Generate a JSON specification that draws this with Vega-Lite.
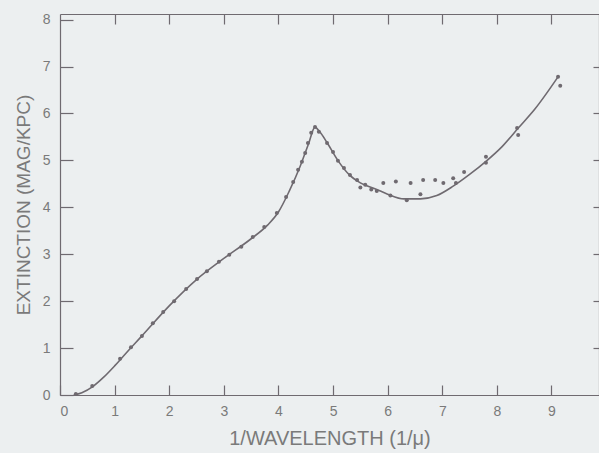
{
  "$schema": "https://vega.github.io/schema/vega-lite/v6.json",
  "autosize": {"type": "none"},
  "width": 539,
  "height": 381,
  "padding": {"left": 60, "top": 14, "right": 0, "bottom": 58},
  "background": "#eceff0",
  "config": {
    "view": {"stroke": null},
    "axis": {
      "grid": false,
      "domainColor": "#6f6a70",
      "tickColor": "#6f6a70",
      "labelColor": "#7a7a7a",
      "titleColor": "#7a7a7a",
      "labelFont": "Liberation Sans",
      "titleFont": "Liberation Sans",
      "labelFontSize": 14,
      "titleFontWeight": "normal",
      "domainWidth": 1.2,
      "tickWidth": 1.2
    }
  },
  "datasets": {
    "curve": [
      {"x": 0.25, "y": 0}, {"x": 0.4, "y": 0.05}, {"x": 0.6, "y": 0.18}, {"x": 0.8, "y": 0.38},
      {"x": 1.0, "y": 0.62}, {"x": 1.2, "y": 0.88}, {"x": 1.5, "y": 1.26}, {"x": 2.0, "y": 1.9},
      {"x": 2.5, "y": 2.46}, {"x": 3.0, "y": 2.91}, {"x": 3.5, "y": 3.33}, {"x": 3.8, "y": 3.62},
      {"x": 4.0, "y": 3.9}, {"x": 4.2, "y": 4.35}, {"x": 4.4, "y": 4.88}, {"x": 4.55, "y": 5.35},
      {"x": 4.67, "y": 5.71}, {"x": 4.75, "y": 5.62}, {"x": 4.9, "y": 5.36}, {"x": 5.1, "y": 4.98},
      {"x": 5.3, "y": 4.69}, {"x": 5.5, "y": 4.52}, {"x": 5.8, "y": 4.38}, {"x": 6.0, "y": 4.28},
      {"x": 6.3, "y": 4.18}, {"x": 6.6, "y": 4.18}, {"x": 6.9, "y": 4.25}, {"x": 7.2, "y": 4.45},
      {"x": 7.5, "y": 4.7}, {"x": 7.8, "y": 4.98}, {"x": 8.1, "y": 5.3}, {"x": 8.4, "y": 5.7},
      {"x": 8.7, "y": 6.1}, {"x": 9.12, "y": 6.78}
    ],
    "obs": [
      {"x": 0.29, "y": 0.02}, {"x": 0.59, "y": 0.19}, {"x": 1.10, "y": 0.77}, {"x": 1.30, "y": 1.02},
      {"x": 1.50, "y": 1.26}, {"x": 1.70, "y": 1.53}, {"x": 1.89, "y": 1.77}, {"x": 2.09, "y": 2.00},
      {"x": 2.31, "y": 2.26}, {"x": 2.51, "y": 2.47}, {"x": 2.69, "y": 2.64}, {"x": 2.91, "y": 2.84},
      {"x": 3.10, "y": 2.99}, {"x": 3.32, "y": 3.16}, {"x": 3.53, "y": 3.37}, {"x": 3.74, "y": 3.58},
      {"x": 3.97, "y": 3.88}, {"x": 4.14, "y": 4.22}, {"x": 4.27, "y": 4.54}, {"x": 4.36, "y": 4.80},
      {"x": 4.43, "y": 4.97}, {"x": 4.49, "y": 5.16}, {"x": 4.54, "y": 5.37}, {"x": 4.60, "y": 5.59},
      {"x": 4.67, "y": 5.71}, {"x": 4.74, "y": 5.61}, {"x": 4.89, "y": 5.37}, {"x": 5.00, "y": 5.18},
      {"x": 5.09, "y": 4.99}, {"x": 5.20, "y": 4.84}, {"x": 5.31, "y": 4.69}, {"x": 5.44, "y": 4.58},
      {"x": 5.59, "y": 4.48}, {"x": 5.5, "y": 4.42}, {"x": 5.7, "y": 4.38}, {"x": 5.8, "y": 4.35},
      {"x": 5.92, "y": 4.52}, {"x": 6.05, "y": 4.25}, {"x": 6.15, "y": 4.55}, {"x": 6.35, "y": 4.15},
      {"x": 6.42, "y": 4.52}, {"x": 6.6, "y": 4.28}, {"x": 6.65, "y": 4.58}, {"x": 6.87, "y": 4.58},
      {"x": 7.02, "y": 4.52}, {"x": 7.2, "y": 4.62}, {"x": 7.25, "y": 4.52}, {"x": 7.4, "y": 4.75},
      {"x": 7.8, "y": 5.08}, {"x": 7.8, "y": 4.95}, {"x": 8.37, "y": 5.69}, {"x": 8.39, "y": 5.54},
      {"x": 9.12, "y": 6.78}, {"x": 9.16, "y": 6.59}
    ]
  },
  "layer": [
    {
      "data": {"name": "curve"},
      "mark": {"type": "line", "interpolate": "monotone", "color": "#6f6a70", "strokeWidth": 1.6},
      "encoding": {
        "x": {"field": "x", "type": "quantitative",
              "scale": {"domain": [0, 9.87], "nice": false, "zero": false},
              "axis": {"orient": "bottom", "values": [0,1,2,3,4,5,6,7,8,9], "tickSize": -10,
                       "labelPadding": 19, "title": "1/WAVELENGTH (1/μ)", "titleFontSize": 20, "titlePadding": 10}},
        "y": {"field": "y", "type": "quantitative",
              "scale": {"domain": [0, 8.12], "nice": false},
              "axis": {"orient": "left", "values": [0,1,2,3,4,5,6,7,8], "tickSize": -13,
                       "labelPadding": 23, "title": "EXTINCTION (MAG/KPC)", "titleFontSize": 19, "titlePadding": 9}}
      }
    },
    {
      "data": {"name": "obs"},
      "mark": {"type": "point", "filled": true, "color": "#6f6a70", "size": 16, "opacity": 1},
      "encoding": {
        "x": {"field": "x", "type": "quantitative",
              "axis": {"orient": "top", "values": [1,2,3,4,5,6,7,8,9], "tickSize": -10, "labels": false, "title": null}},
        "y": {"field": "y", "type": "quantitative",
              "axis": {"orient": "right", "values": [1,2,3,4,5,6,7], "tickSize": -6, "labels": false, "title": null}}
      }
    }
  ],
  "resolve": {"axis": {"x": "independent", "y": "independent"}}
}
